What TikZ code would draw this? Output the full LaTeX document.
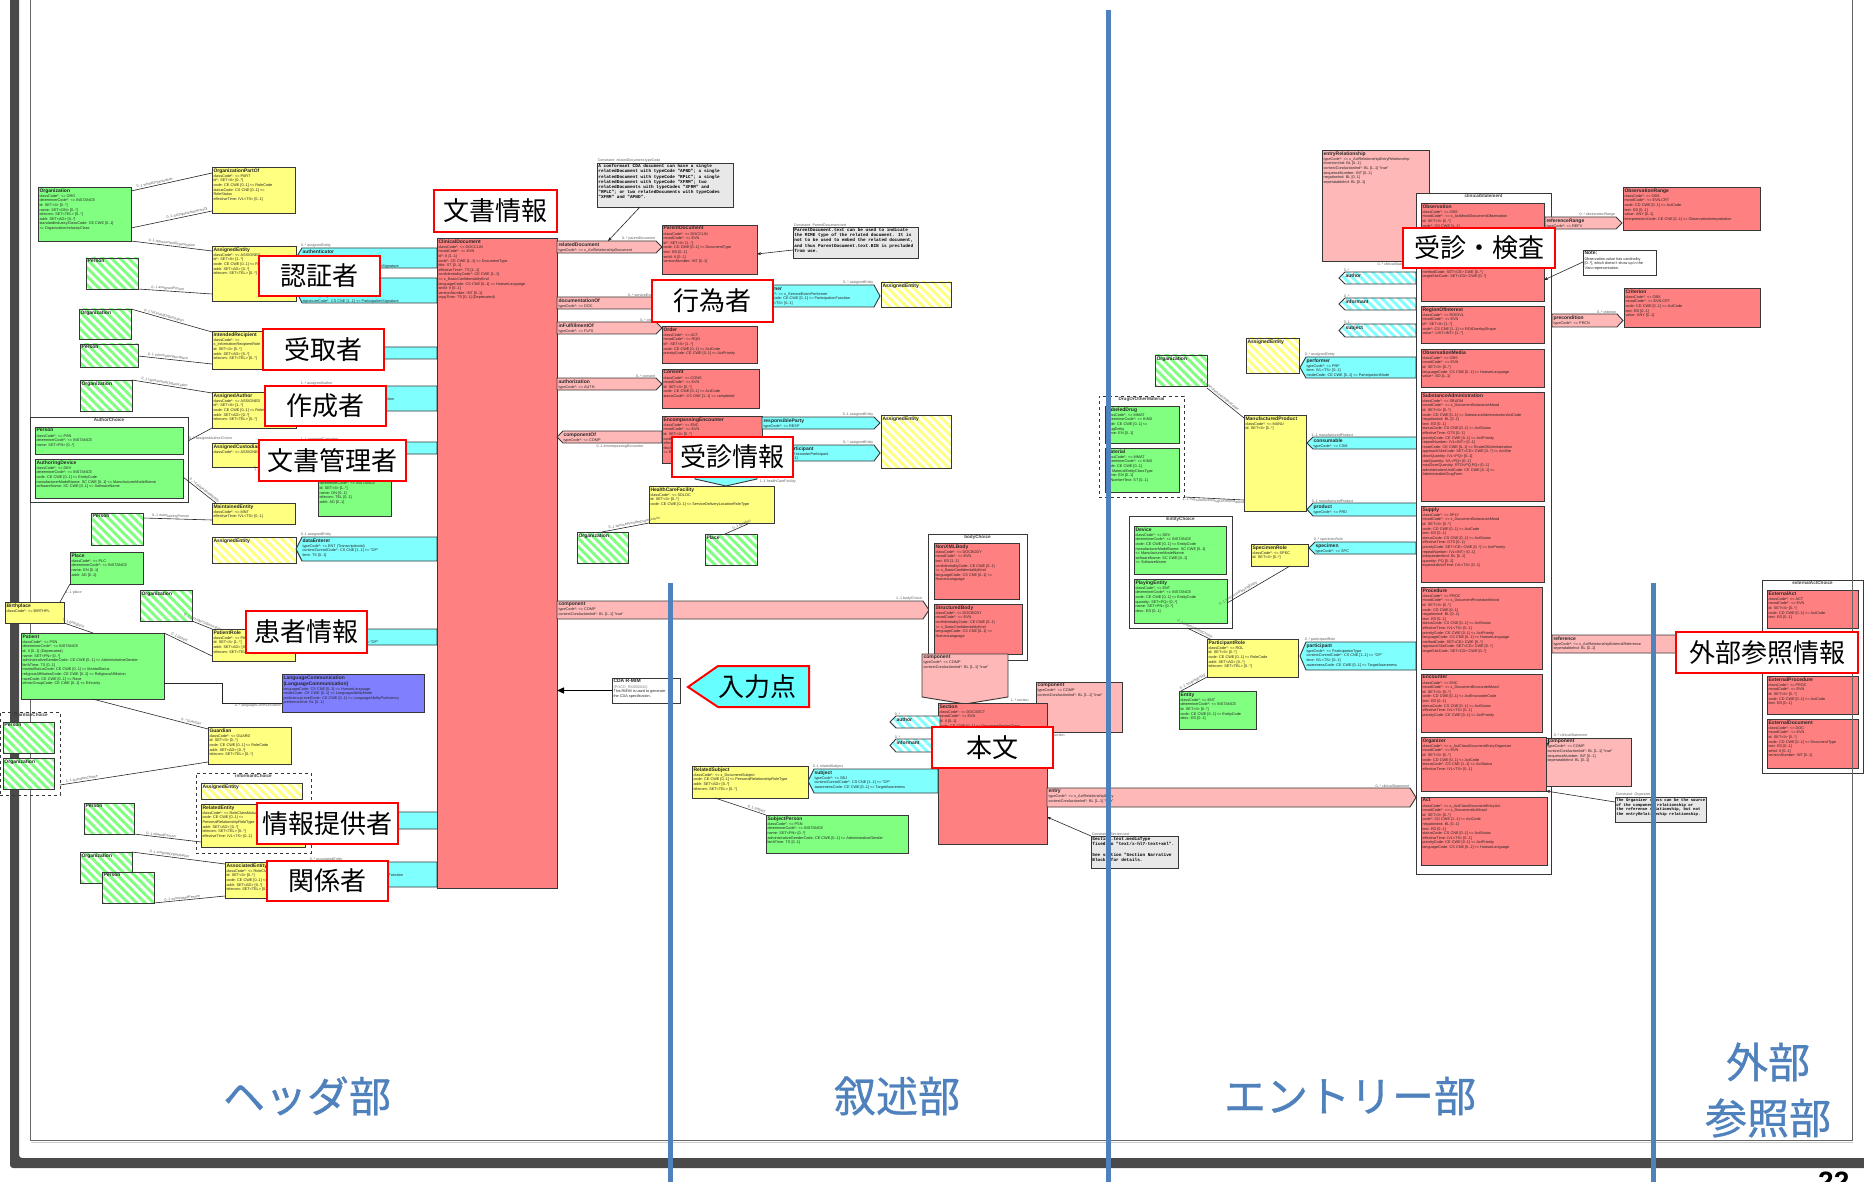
\documentclass[tikz,border=0pt]{standalone}
\usepackage{fontspec}
\setmainfont{Liberation Sans}
\newfontfamily\jpf{Noto Sans CJK JP}
\newfontfamily\jpfs[FakeBold=0.8]{Noto Sans CJK JP}
\newfontfamily\monof{Liberation Mono}
\usetikzlibrary{patterns.meta,arrows.meta,calc}
\definecolor{cAct}{RGB}{255,128,128}
\definecolor{cRel}{RGB}{255,184,184}
\definecolor{cPart}{RGB}{128,255,255}
\definecolor{cRole}{RGB}{255,255,128}
\definecolor{cEnt}{RGB}{128,255,128}
\definecolor{cLang}{RGB}{128,128,255}
\definecolor{cNote}{RGB}{232,232,232}
\definecolor{cBord}{RGB}{55,55,55}
\definecolor{cBlue}{RGB}{79,129,189}
\definecolor{cFrame}{RGB}{74,74,74}
\definecolor{cLbl}{RGB}{95,95,95}
\definecolor{cIn}{RGB}{102,255,255}
\tikzset{
 box/.style={draw=cBord,line width=0.9pt,inner sep=0pt,outer sep=0pt},
 shp/.style={draw=cBord,line width=0.9pt},
 kAct/.style={fill=cAct}, kRel/.style={fill=cRel}, kPart/.style={fill=cPart},
 kRole/.style={fill=cRole}, kEnt/.style={fill=cEnt}, kLang/.style={fill=cLang},
 kNote/.style={fill=cNote}, kWhite/.style={fill=white}, kDash/.style={dashed,line width=1pt},
 hEnt/.style={preaction={fill=white},pattern={Lines[angle=-45,distance=6pt,line width=3pt]},pattern color=cEnt},
 hRole/.style={preaction={fill=white},pattern={Lines[angle=-45,distance=6pt,line width=3pt]},pattern color=cRole},
 hPart/.style={preaction={fill=white},pattern={Lines[angle=-45,distance=6pt,line width=3pt]},pattern color=cPart},
 txt/.style={inner sep=1.3pt,align=left,font=\fontsize{3.8}{4.6}\selectfont,text=black!85},
 lbl/.style={inner sep=0.6pt,font=\fontsize{3.6}{4}\selectfont,text=cLbl},
 chtitle/.style={inner sep=1.2pt,font=\fontsize{4.6}{5}\selectfont\bfseries,text=black!75},
 con/.style={draw=black!85,line width=0.6pt},
 nar/.style={con,-{Stealth[length=4pt,width=3pt]}},
 jpcall/.style={draw=red,line width=2pt,fill=white,inner sep=0pt,outer sep=0pt,font=\jpf\fontsize{26}{30}\selectfont},
 secl/.style={text=cBlue,inner sep=0pt,font=\jpfs\fontsize{42}{46}\selectfont},
 bline/.style={draw=cBlue,line width=5pt},
}
\newcommand\ttl[1]{{\fontsize{5}{6}\selectfont\bfseries #1}}
\newcommand\ub[8]{%
 \node[box,#6,minimum width={#4-#2},minimum height={#5-#3},anchor=north west] (#1) at (#2,#3) {};
 \node[txt,anchor=north west] (#1t) at (#2,#3) {\ttl{#7}\\[0.6pt]#8};}
\newcommand\hb[7]{%
 \node[box,#6,minimum width={#4-#2},minimum height={#5-#3},anchor=north west] (#1) at (#2,#3) {};
 \node[txt,anchor=north west] (#1t) at (#2,#3) {\ttl{#7}};}
\newcommand\chf[7]{%
 \node[box,#6,minimum width={#4-#2},minimum height={#5-#3},anchor=north west] (#1) at (#2,#3) {};
 \node[chtitle,anchor=north] (#1t) at (#1.north) {#7};}
\newcommand\partL[9]{%
 \path[shp,#6] (#2,{(#3+#5)/2}) -- ({#2+6},#3) -- (#4,#3) -- (#4,#5) -- ({#2+6},#5) -- cycle;
 \node[txt,anchor=north west] (#1) at ({#2+5},#3) {\ttl{#7}\\[0.6pt]#8};
 \node[lbl,anchor=south west] (#1l) at ({#2+4},#3) {#9};}
\newcommand\partR[9]{%
 \path[shp,#6] (#2,#3) -- ({#4-6},#3) -- (#4,{(#3+#5)/2}) -- ({#4-6},#5) -- (#2,#5) -- cycle;
 \node[txt,anchor=north west] (#1) at (#2,#3) {\ttl{#7}\\[0.6pt]#8};
 \node[lbl,anchor=south east] (#1l) at ({#4-6},#3) {#9};}
\newcommand\partD[9]{%
 \path[shp,#6] (#2,#3) -- (#4,#3) -- (#4,{#5-7}) -- ({(#2+#4)/2},#5) -- (#2,{#5-7}) -- cycle;
 \node[txt,anchor=north west] (#1) at (#2,#3) {\ttl{#7}\\[0.6pt]#8};
 \node[lbl,anchor=west] (#1l) at ({#4+2},{#5-4}) {#9};}
\newcommand\jcall[6]{\node[jpcall,minimum width={#4-#2},minimum height={#5-#3},anchor=north west] (#1) at (#2,#3) {#6};}
\newcommand\noteb[8]{%
 \node[box,kNote,minimum width={#4-#2},minimum height={#5-#3},anchor=north west] (#1) at (#2,#3) {};
 \node[lbl,anchor=south west] (#1c) at (#1.north west) {#6};
 \node[anchor=north west,inner sep=1.2pt,align=left,font=\monof\bfseries#7] (#1t) at (#1.north west) {#8};}
\begin{document}
\begin{tikzpicture}[x=1pt,y=-1pt]
\useasboundingbox (0,0) rectangle (1864,1182);
\fill[white] (0,0) rectangle (1864,1182);
% ---------- frame
\fill[cFrame,rounded corners=3pt] (10,-5) -- (10,1168) -- (1870,1168) -- (1870,1158) -- (19,1158) -- (19,-5) -- cycle;
\draw[black!60,line width=0.8pt] (30,0) -- (30,1140) -- (1852,1140) -- (1852,0);
\draw[black!20,line width=0.8pt] (31,1142) -- (1853,1142);

% ---------- header part
\ub{orgL}{38}{187}{131}{241}{kEnt}{Organization}{classCode*: <= ORG\\determinerCode*: <= INSTANCE\\id: SET<II> [0..*]\\name: SET<ON> [0..*]\\telecom: SET<TEL> [0..*]\\addr: SET<AD> [0..*]\\standardIndustryClassCode: CE CWE [0..1]\\ <= OrganizationIndustryClass}
\ub{orgPart}{212}{167}{295}{213}{kRole}{OrganizationPartOf}{classCode*: <= PART\\id*: SET<II> [0..*]\\code: CE CWE [0..1] <= RoleCode\\statusCode: CS CNE [0..1] <=\\RoleStatus\\effectiveTime: IVL<TS> [0..1]}
\ub{aeAuth}{212}{246}{296}{301}{kRole}{AssignedEntity}{classCode*: <= ASSIGNED\\id*: SET<II> [1..*]\\code: CE CWE [0..1] <= RoleCode\\addr: SET<AD> [0..*]\\telecom: SET<TEL> [0..*]}
\hb{perA}{86}{258}{138}{289}{hEnt}{Person}
\partL{authn}{296}{248}{437}{268}{kPart}{authenticator}{typeCode*: <= AUTHEN\\time*: TS [1..1]\\signatureCode*: CS CNE [1..1] <= ParticipationSignature}{0..* assignedEntity}
\partL{legAuth}{296}{278}{437}{303}{kPart}{legalAuthenticator}{typeCode*: <= LA\\contextControlCode*: CS CNE [1..1] <= "OP"\\time*: TS [1..1]\\signatureCode*: CS CNE [1..1] <= ParticipationSignature}{0..1 assignedEntity}
\hb{orgR}{79}{309}{131}{339}{hEnt}{Organization}
\hb{perR}{80}{344}{138}{367}{hEnt}{Person}
\ub{intRec}{212}{331}{296}{369}{kRole}{IntendedRecipient}{classCode*: <=\\x\_InformationRecipientRole\\id: SET<II> [0..*]\\addr: SET<AD> [0..*]\\telecom: SET<TEL> [0..*]}
\partL{infRec}{296}{347}{437}{359}{kPart}{informationRecipient}{typeCode*: <= x\_InformationRecipient}{0..* intendedRecipient}
\hb{orgAu}{80}{380}{132}{411}{hEnt}{Organization}
\ub{assAuthor}{212}{392}{296}{428}{kRole}{AssignedAuthor}{classCode*: <= ASSIGNED\\id*: SET<II> [1..*]\\code: CE CWE [0..1] <= RoleCode\\addr: SET<AD> [0..*]\\telecom: SET<TEL> [0..*]}
\partL{author}{296}{386}{437}{411}{kPart}{author}{typeCode*: <= AUT\\functionCode: CE CWE [0..1] <= ParticipationFunction\\contextControlCode*: CS CNE [1..1] <= "OP"\\time*: TS [1..1]}{1..* assignedAuthor}
\chf{acf}{30}{417}{188}{502}{kWhite}{AuthorChoice}
\ub{perAC}{35}{427}{183}{454}{kEnt}{Person}{classCode*: <= PSN\\determinerCode*: <= INSTANCE\\name: SET<PN> [0..*]}
\ub{authDev}{35}{459}{183}{498}{kEnt}{AuthoringDevice}{classCode*: <= DEV\\determinerCode*: <= INSTANCE\\code: CE CWE [0..1] <= EntityCode\\manufacturerModelName: SC CWE [0..1] <= ManufacturerModelName\\softwareName: SC CWE [0..1] <= SoftwareName}
\ub{assCust}{212}{443}{296}{467}{kRole}{AssignedCustodian}{classCode*: <= ASSIGNED}
\partL{cust}{296}{442}{437}{454}{kPart}{custodian}{typeCode*: <= CST}{1..1 assignedCustodian}
\ub{orgCust}{318}{470}{391}{516}{kEnt}{CustodianOrganization}{classCode*: <= ORG\\determinerCode*: <= INSTANCE\\id: SET<II> [1..*]\\name: ON [0..1]\\telecom: TEL [0..1]\\addr: AD [0..1]}
\ub{maintEnt}{212}{503}{295}{524}{kRole}{MaintainedEntity}{classCode*: <= MNT\\effectiveTime: IVL<TS> [0..1]}
\hb{perM}{91}{513}{143}{545}{hEnt}{Person}
\hb{aeDE}{212}{537}{296}{563}{hRole}{AssignedEntity}
\partL{dataEnt}{296}{537}{437}{561}{kPart}{dataEnterer}{typeCode*: <= ENT (Transcriptionist)\\contextControlCode*: CS CNE [1..1] <= "OP"\\time: TS [0..1]}{0..1 assignedEntity}
\ub{place}{70}{552}{143}{584}{kEnt}{Place}{classCode*: <= PLC\\determinerCode*: <= INSTANCE\\name: EN [0..1]\\addr: AD [0..1]}
\ub{birth}{5}{602}{64}{623}{kRole}{Birthplace}{classCode*: <= BIRTHPL}
\hb{orgP}{140}{590}{192}{621}{hEnt}{Organization}
\ub{patRole}{212}{629}{295}{661}{kRole}{PatientRole}{classCode*: <= PAT\\id: SET<II> [1..*]\\addr: SET<AD> [0..*]\\telecom: SET<TEL> [0..*]}
\partL{recTarget}{296}{629}{437}{645}{kPart}{recordTarget}{typeCode*: <= RCT\\contextControlCode*: CS CNE [1..1] <= "OP"}{1..* patientRole}
\ub{patient}{21}{633}{164}{699}{kEnt}{Patient}{classCode*: <= PSN\\determinerCode*: <= INSTANCE\\id: II [0..1] (Deprecated)\\name: SET<PN> [0..*]\\administrativeGenderCode: CE CWE [0..1] <= AdministrativeGender\\birthTime: TS [0..1]\\maritalStatusCode: CE CWE [0..1] <= MaritalStatus\\religiousAffiliationCode: CE CWE [0..1] <= ReligiousAffiliation\\raceCode: CE CWE [0..1] <= Race\\ethnicGroupCode: CE CWE [0..1] <= Ethnicity}
\ub{langComm}{282}{674}{424}{712}{kLang}{LanguageCommunication}{\ttl{(LanguageCommunication)}\\languageCode: CS CNE [0..1] <= HumanLanguage\\modeCode: CE CWE [0..1] <= LanguageAbilityMode\\proficiencyLevelCode: CE CWE [0..1] <= LanguageAbilityProficiency\\preferenceInd: BL [0..1]}
\chf{gch}{0}{712}{60}{795}{kDash}{GuardianChoice}
\hb{persG}{3}{722}{54}{753}{hEnt}{Person}
\hb{orgG}{3}{758}{54}{789}{hEnt}{Organization}
\ub{guardian}{208}{727}{291}{764}{kRole}{Guardian}{classCode*: <= GUARD\\id: SET<II> [0..*]\\code: CE CWE [0..1] <= RoleCode\\addr: SET<AD> [0..*]\\telecom: SET<TEL> [0..*]}
\chf{ich}{196}{773}{311}{853}{kDash}{informantChoice}
\hb{aeInf}{201}{783}{302}{799}{hRole}{AssignedEntity}
\ub{relEnt}{201}{804}{305}{847}{kRole}{RelatedEntity}{classCode*: <= RoleClassMutualRelationship\\code: CE CWE [0..1] <=\\PersonalRelationshipRoleType\\addr: SET<AD> [0..*]\\telecom: SET<TEL> [0..*]\\effectiveTime: IVL<TS> [0..1]}
\partL{inform}{311}{812}{438}{829}{kPart}{informant}{typeCode*: <= INF\\contextControlCode*: CS CNE [1..1] <= "OP"}{1..1 informantChoice}
\hb{perI}{84}{803}{134}{834}{hEnt}{Person}
\hb{orgS}{80}{852}{132}{883}{hEnt}{Organization}
\hb{perS}{102}{872}{154}{903}{hEnt}{Person}
\ub{assocEnt}{225}{862}{305}{898}{kRole}{AssociatedEntity}{classCode*: <= RoleClassAssociative\\id: SET<II> [0..*]\\code: CE CWE [0..1] <= RoleCode\\addr: SET<AD> [0..*]\\telecom: SET<TEL> [0..*]}
\partL{partic}{305}{862}{437}{887}{kPart}{participant}{typeCode*: <= ParticipationType\\functionCode: CE CWE [0..1] <= ParticipationFunction\\contextControlCode*: CS CNE [1..1] <= "OP"\\time: IVL<TS> [0..1]}{0..* associatedEntity}
\ub{cdoc}{437}{238}{557}{888}{kAct}{ClinicalDocument}{classCode*: <= DOCCLIN\\moodCode*: <= EVN\\id*: II [1..1]\\code*: CE CWE [1..1] <= DocumentType\\title: ST [0..1]\\effectiveTime*: TS [1..1]\\confidentialityCode*: CE CWE [1..1]\\ <= x\_BasicConfidentialityKind\\languageCode: CS CNE [0..1] <= HumanLanguage\\setId: II [0..1]\\versionNumber: INT [0..1]\\copyTime: TS [0..1] (Deprecated)}

% ---------- header connectors
\draw[con] ([yshift=-4pt]orgL.north east) -- ([yshift=-6pt]orgPart.north west) node[lbl,pos=0.3,above,sloped]{0..1 wholeOrganization};
\draw[con] ([yshift=-41pt]orgL.north east) -- ([yshift=-44pt]orgPart.north west) node[lbl,pos=0.7,above,sloped]{0..1 asOrganizationPartOf};
\draw[con] (orgL.south east) -- ([yshift=-5pt]aeAuth.north west) node[lbl,pos=0.5,above,sloped]{0..1 representedOrganization};
\draw[con] (perA.south east) -- ([yshift=7pt]aeAuth.south west) node[lbl,pos=0.4,above,sloped]{0..1 assignedPerson};
\draw[con] (orgR.north east) -- ([yshift=-1pt]intRec.north west) node[lbl,pos=0.4,above,sloped]{0..1 receivedOrganization};
\draw[con] ([yshift=-12pt]perR.north east) -- ([yshift=5pt]intRec.south west) node[lbl,pos=0.4,above,sloped]{0..1 informationRecipient};
\draw[con] (orgAu.north east) -- ([yshift=-1pt]assAuthor.north west) node[lbl,pos=0.4,above,sloped]{0..1 representedOrganization};
\draw[con] ([yshift=-24pt]acf.north east) -- (assAuthor.south west) node[lbl,pos=0,anchor=south west]{0..1 assignedAuthorChoice};
\draw[con] ([yshift=-18pt]authDev.north east) -- ([xshift=4pt]maintEnt.north west) node[lbl,pos=0.6,above,sloped]{0..* asMaintainedEntity};
\draw[con] ([yshift=-5pt]perM.north east) -- ([yshift=4pt]maintEnt.south west) node[lbl,pos=0.4,above,sloped]{0..1 maintainingPerson};
\draw[con] (assCust.south) -- ([yshift=-8pt]orgCust.north west) node[lbl,pos=0.5,below,sloped]{1..1 representedCustodianOrganization};
\draw[con] (place.south west) -- ([xshift=-4pt]birth.north east) node[lbl,pos=0.5,right]{1..1 place};
\draw[con] (birth.south east) -- ([xshift=72pt]patient.north west) node[lbl,pos=0.3,above,sloped]{0..1 birthplace};
\draw[con] (orgP.south east) -- (patRole.north west) node[lbl,pos=0.5,above,sloped]{0..1 providerOrganization};
\draw[con] (patient.north east) -- ([yshift=5pt]patRole.south west) node[lbl,pos=0.3,above,sloped]{0..1 patient};
\draw[con] ([yshift=16pt]patient.south east) -- ++(58,0) |- ([yshift=9pt]langComm.south west) node[lbl,pos=0.8,below]{0..* languageCommunication};
\draw[con] (patient.south) -- ([yshift=-2pt]guardian.north west) node[lbl,pos=0.85,above,sloped]{0..* guardian};
\draw[con] ([yshift=10pt]gch.south east) -- ([yshift=2pt]guardian.south west) node[lbl,pos=0.15,above,sloped]{1..1 guardianChoice};
\draw[con] (perI.south east) -- ([yshift=5pt]relEnt.south west) node[lbl,pos=0.4,above,sloped]{0..1 relatedPerson};
\draw[con] (orgS.north east) -- ([yshift=-2pt]assocEnt.north west) node[lbl,pos=0.4,above,sloped]{0..1 scopingOrganization};
\draw[con] (perS.south east) -- ([yshift=2pt]assocEnt.south west) node[lbl,pos=0.4,above,sloped]{0..1 associatedPerson};

% ---------- middle (document context + narrative)
\noteb{noteRD}{597}{163}{733}{207}{Constraint: relatedDocument.typeCode}{\fontsize{4.4}{5.2}\selectfont}{A conformant CDA document can have a single\\relatedDocument with typeCode "APND"; a single\\relatedDocument with typeCode "RPLC"; a single\\relatedDocument with typeCode "XFRM";  two\\relatedDocuments with typeCodes "XFRM" and\\"RPLC"; or two relatedDocuments with typeCodes\\"XFRM" and "APND".}
\partR{relDoc}{557}{241}{662}{253}{kRel}{relatedDocument}{typeCode*: <= x\_ActRelationshipDocument}{0..* parentDocument}
\ub{parentDoc}{662}{225}{757}{274}{kAct}{ParentDocument}{classCode*: <= DOCCLIN\\moodCode*: <= EVN\\id*: SET<II> [1..*]\\code: CD CWE [0..1] <= DocumentType\\text: ED [0..1]\\setId: II [0..1]\\versionNumber: INT [0..1]}
\noteb{notePD}{793}{227}{918}{258}{Constraint: ParentDocument.text}{\fontsize{4.4}{5.2}\selectfont}{ParentDocument.text can be used to indicate\\the MIME type of the related document. It is\\not to be used to embed the related document,\\and thus ParentDocument.text.BIN is precluded\\from use.}
\partR{docOf}{557}{297}{662}{309}{kRel}{documentationOf}{typeCode*: <= DOC}{0..* serviceEvent}
\ub{servEv}{662}{283}{757}{322}{kAct}{ServiceEvent}{classCode*: <= ACT\\moodCode*: <= EVN\\id: SET<II> [0..*]\\code: CE CWE [0..1]\\effectiveTime: IVL<TS> [0..1]}
\partR{perfSE}{757}{285}{880}{307}{kPart}{performer}{typeCode*: <= x\_ServiceEventPerformer\\functionCode: CE CWE [0..1] <= ParticipationFunction\\time: IVL<TS> [0..1]}{0..* assignedEntity}
\hb{aeSE}{881}{282}{951}{307}{hRole}{AssignedEntity}
\partR{inFul}{557}{322}{662}{334}{kRel}{inFulfillmentOf}{typeCode*: <= FLFS}{0..* order}
\ub{order}{662}{326}{757}{363}{kAct}{Order}{classCode*: <= ACT\\moodCode*: <= RQO\\id*: SET<II> [1..*]\\code: CE CWE [0..1] <= ActCode\\priorityCode: CE CWE [0..1] <= ActPriority}
\partR{authz}{557}{378}{662}{390}{kRel}{authorization}{typeCode*: <= AUTH}{0..* consent}
\ub{consent}{662}{369}{759}{408}{kAct}{Consent}{classCode*: <= CONS\\moodCode*: <= EVN\\id: SET<II> [0..*]\\code: CE CWE [0..1] <= ActCode\\statusCode*: CS CNE [1..1] <= completed}
\partL{compOf}{557}{431}{662}{443}{kRel}{componentOf}{typeCode*: <= COMP}{}
\node[lbl,anchor=north] (compOfl2) at (620,444) {0..1 encompassingEncounter};
\ub{encEnc}{662}{416}{762}{463}{kAct}{EncompassingEncounter}{classCode*: <= ENC\\moodCode*: <= EVN\\id: SET<II> [0..*]\\code: CE CWE [0..1] <= ActEncounterCode\\effectiveTime*: IVL<TS> [1..1]\\dischargeDispositionCode: CE CWE [0..1]\\ <= EncounterDischargeDisposition}
\partR{respP}{762}{417}{880}{429}{kPart}{responsibleParty}{typeCode*: <= RESP}{0..1 assignedEntity}
\partR{encPart}{762}{445}{880}{461}{kPart}{encounterParticipant}{typeCode*: <= x\_EncounterParticipant\\time: IVL<TS> [0..1]}{0..* assignedEntity}
\hb{aeEE}{881}{415}{951}{468}{hRole}{AssignedEntity}
\partD{loc}{695}{463}{757}{486}{kPart}{location}{typeCode*: <= LOC}{1..1 healthCareFacility}
\ub{hcf}{649}{486}{774}{523}{kRole}{HealthCareFacility}{classCode*: <= SDLOC\\id: SET<II> [0..*]\\code: CE CWE [0..1] <= ServiceDeliveryLocationRoleType}
\hb{orgH}{577}{532}{628}{563}{hEnt}{Organization}
\hb{placeH}{705}{534}{757}{565}{hEnt}{Place}
\draw[con] (hcf.south west) -- ([xshift=25pt]orgH.north west) node[lbl,pos=0.3,above,sloped]{0..1 serviceProviderOrganization};
\draw[con] ([xshift=-24pt]hcf.south east) -- ([xshift=20pt]placeH.north west) node[lbl,pos=0.3,above,sloped]{0..1 location};
\partR{compB}{557}{601}{929}{619}{kRel}{component}{typeCode*: <= COMP\\contextConductionInd*: BL [1..1] "true"}{1..1 bodyChoice}
\chf{bch}{928}{534}{1027}{660}{kWhite}{bodyChoice}
\ub{nonXML}{934}{543}{1019}{599}{kAct}{NonXMLBody}{classCode*: <= DOCBODY\\moodCode*: <= EVN\\text: ED [1..1]\\confidentialityCode: CE CWE [0..1]\\ <= x\_BasicConfidentialityKind\\languageCode: CS CNE [0..1] <=\\HumanLanguage}
\ub{structB}{934}{604}{1022}{654}{kAct}{StructuredBody}{classCode*: <= DOCBODY\\moodCode*: <= EVN\\confidentialityCode: CE CWE [0..1]\\ <= x\_BasicConfidentialityKind\\languageCode: CS CNE [0..1] <=\\HumanLanguage}
\partD{compBS}{922}{654}{1008}{704}{kRel}{component}{typeCode*: <= COMP\\contextConductionInd*: BL [1..1] "true"}{1..* section}
\ub{compSS}{1036}{682}{1122}{732}{kRel}{component}{typeCode*: <= COMP\\contextConductionInd*: BL [1..1] "true"}
\node[lbl,anchor=north west] (compSSl) at (1046,733) {0..* section};
\ub{section}{938}{703}{1047}{844}{kAct}{Section}{classCode*: <= DOCSECT\\moodCode*: <= EVN\\id: II [0..1]\\code: CE CWE [0..1] <= DocumentSectionType\\title: ST [0..1]\\text: ED [0..1]\\confidentialityCode: CE CWE [0..1]\\ <= x\_BasicConfidentialityKind\\languageCode: CS CNE [0..1] <= HumanLanguage}
\partL{authS}{890}{716}{940}{728}{hPart}{author}{}{0..*}
\partL{infS}{890}{739}{932}{752}{hPart}{informant}{}{0..*}
\partL{subjS}{808}{769}{938}{793}{kPart}{subject}{typeCode*: <= SBJ\\contextControlCode*: CS CNE [1..1] <= "OP"\\awarenessCode: CE CWE [0..1] <= TargetAwareness}{0..1 relatedSubject}
\ub{relSubj}{692}{766}{808}{798}{kRole}{RelatedSubject}{classCode*: <= x\_DocumentSubject\\code: CE CWE [0..1] <= PersonalRelationshipRoleType\\addr: SET<AD> [0..*]\\telecom: SET<TEL> [0..*]}
\ub{subjPers}{766}{815}{908}{853}{kEnt}{SubjectPerson}{classCode*: <= PSN\\determinerCode*: <= INSTANCE\\name: SET<PN> [0..*]\\administrativeGenderCode: CE CWE [0..1] <= AdministrativeGender\\birthTime: TS [0..1]}
\draw[con] ([xshift=23pt]relSubj.south west) -- (subjPers.north west) node[lbl,pos=0.8,above,sloped]{0..1 subject};
\partR{entry}{1047}{788}{1416}{807}{kRel}{entry}{typeCode*: <= x\_ActRelationshipEntry\\contextConductionInd*: BL [1..1] "true"}{0..* clinicalStatement}
\noteb{noteSec}{1091}{836}{1178}{868}{Constraint: Section.text}{\fontsize{4.4}{5.2}\selectfont}{Section.text.mediaType\\fixed to "text/x-hl7-text+xml".\\\mbox{}\\See section "Section Narrative\\Block" for details.}
\ub{cdarmim}{612}{678}{680}{703}{kWhite}{CDA R-MIM}{{\color{gray}(POCD\_RM000040)}\\This RMIM is used to generate\\the CDA specification.}
\draw[black,line width=1.4pt,-{Triangle[length=7pt,width=6pt]}] (cdarmim.west) -- (cdarmim.west -| cdoc.east);
\draw[nar] ([xshift=43pt]noteRD.south west) -- ([xshift=51pt]relDoc.north west);
\draw[nar] ([yshift=-23pt]notePD.north west) -- ([yshift=-29pt]parentDoc.north east);
\draw[nar] (noteSec.north west) -- ([yshift=-114pt]section.north east);

% ---------- entry part
\ub{entryRel}{1322}{150}{1429}{261}{kRel}{entryRelationship}{typeCode*: <= x\_ActRelationshipEntryRelationship\\inversionInd: BL [0..1]\\contextConductionInd*: BL [1..1] "true"\\sequenceNumber: INT [0..1]\\negationInd: BL [0..1]\\seperatableInd: BL [0..1]}
\node[lbl,anchor=north east] (entryRell) at (1412,262) {0..* clinicalStatement};
\partL{authE}{1339}{272}{1416}{284}{hPart}{author}{}{0..*}
\partL{infE}{1339}{298}{1416}{310}{hPart}{informant}{}{0..*}
\partL{subjE}{1339}{324}{1416}{337}{hPart}{subject}{}{0..1}
\hb{aeE}{1246}{338}{1299}{373}{hRole}{AssignedEntity}
\partL{perfE}{1300}{357}{1416}{378}{kPart}{performer}{typeCode*: <= PRF\\time: IVL<TS> [0..1]\\modeCode: CE CWE [0..1] <= ParticipationMode}{0..* assignedEntity}
\hb{orgE}{1155}{355}{1207}{386}{hEnt}{Organization}
\chf{domf}{1099}{396}{1184}{497}{kDash}{DrugOrOtherMaterial}
\ub{labDrug}{1105}{406}{1179}{443}{kEnt}{LabeledDrug}{classCode*: <= MMAT\\determinerCode*: <= KIND\\code: CE CWE [0..1] <=\\DrugEntity\\name: EN [0..1]}
\ub{material}{1105}{448}{1179}{492}{kEnt}{Material}{classCode*: <= MMAT\\determinerCode*: <= KIND\\code: CE CWE [0..1]\\ <= MaterialEntityClassType\\name: EN [0..1]\\lotNumberText: ST [0..1]}
\ub{manProd}{1244}{415}{1306}{511}{kRole}{ManufacturedProduct}{classCode*: <= MANU\\id: SET<II> [0..*]}
\partL{consum}{1307}{437}{1421}{449}{kPart}{consumable}{typeCode*: <= CSM}{1..1 manufacturedProduct}
\partL{prod}{1307}{503}{1421}{516}{kPart}{product}{typeCode*: <= PRD}{0..1 manufacturedProduct}
\chf{ech}{1129}{516}{1232}{628}{kWhite}{EntityChoice}
\ub{device}{1134}{526}{1226}{574}{kEnt}{Device}{classCode*: <= DEV\\determinerCode*: <= INSTANCE\\code: CE CWE [0..1] <= EntityCode\\manufacturerModelName: SC CWE [0..1]\\ <= ManufacturerModelName\\softwareName: SC CWE [0..1]\\ <= SoftwareName}
\ub{playEnt}{1134}{579}{1227}{623}{kEnt}{PlayingEntity}{classCode*: <= ENT\\determinerCode*: <= INSTANCE\\code: CE CWE [0..1] <= EntityCode\\quantity: SET<PQ> [0..*]\\name: SET<PN> [0..*]\\desc: ED [0..1]}
\ub{specRole}{1251}{544}{1308}{566}{kRole}{SpecimenRole}{classCode*: <= SPEC\\id: SET<II> [0..*]}
\partL{specim}{1309}{542}{1416}{554}{kPart}{specimen}{typeCode*: <= SPC}{0..* specimenRole}
\ub{partRole}{1207}{639}{1298}{677}{kRole}{ParticipantRole}{classCode*: <= ROL\\id: SET<II> [0..*]\\code: CE CWE [0..1] <= RoleCode\\addr: SET<AD> [0..*]\\telecom: SET<TEL> [0..*]}
\partL{particE}{1300}{642}{1416}{670}{kPart}{participant}{typeCode*: <= ParticipationType\\contextControlCode*: CS CNE [1..1] <= "OP"\\time: IVL<TS> [0..1]\\awarenessCode: CE CWE [0..1] <= TargetAwareness}{0..* participantRole}
\ub{entity}{1179}{691}{1256}{729}{kEnt}{Entity}{classCode*: <= ENT\\determinerCode*: <= INSTANCE\\id: SET<II> [0..*]\\code: CE CWE [0..1] <= EntityCode\\desc: ED [0..1]}
\draw[con] ([yshift=-2pt]orgE.south east) -- ([yshift=-3pt]manProd.north west) node[lbl,pos=0.3,above,sloped]{0..1 manufacturerOrganization};
\draw[con] (domf.south east) -- ([yshift=11pt]manProd.south west) node[lbl,pos=0.5,below,sloped]{1..1 manufacturedDrugOrOtherMaterial};
\draw[con] ([xshift=-18pt]specRole.south east) -- ([yshift=-24pt]playEnt.north east) node[lbl,pos=0.8,above,sloped]{0..1 specimenPlayingEntity};
\draw[con] ([xshift=58pt]ech.south west) -- ([xshift=3pt]partRole.north west) node[lbl,pos=0.3,above,sloped]{0..1 playingEntityChoice};
\draw[con] (partRole.south west) -- ([xshift=2pt]entity.north west) node[lbl,pos=0.5,above,sloped]{0..1 scopingEntity};

\chf{csf}{1416}{193}{1551}{874}{kWhite}{clinicalStatement}
\ub{obs}{1421}{203}{1544}{301}{kAct}{Observation}{classCode*: <= OBS\\moodCode*: <= x\_ActMoodDocumentObservation\\id: SET<II> [0..*]\\code*: CD CWE [1..1]\\derivationExpr: ST [0..1]\\text: ED [0..1]\\statusCode: CS CNE [0..1] <= ActStatus\\effectiveTime: IVL<TS> [0..1]\\priorityCode: CE CWE [0..1] <= ActPriority\\repeatNumber: IVL<INT> [0..1]\\languageCode: CS CNE [0..1] <= HumanLanguage\\value: ANY [0..1]\\interpretationCode: SET<CE> CNE [0..*]\\methodCode: SET<CE> CWE [0..*]\\targetSiteCode: SET<CD> CWE [0..*]}
\ub{roi}{1421}{306}{1544}{343}{kAct}{RegionOfInterest}{classCode*: <= ROIOVL\\moodCode*: <= EVN\\id*: SET<II> [1..*]\\code*: CS CNE [1..1] <= ROIOverlayShape\\value*: LIST<INT> [1..*]}
\ub{obsMedia}{1421}{349}{1544}{387}{kAct}{ObservationMedia}{classCode*: <= OBS\\moodCode*: <= EVN\\id: SET<II> [0..*]\\languageCode: CS CNE [0..1] <= HumanLanguage\\value*: ED [1..1]}
\ub{subAdm}{1421}{392}{1544}{501}{kAct}{SubstanceAdministration}{classCode*: <= SBADM\\moodCode*: <= x\_DocumentSubstanceMood\\id: SET<II> [0..*]\\code: CD CWE [0..1] <= SubstanceAdministrationActCode\\negationInd: BL [0..1]\\text: ED [0..1]\\statusCode: CS CNE [0..1] <= ActStatus\\effectiveTime: GTS [0..1]\\priorityCode: CE CWE [0..1] <= ActPriority\\repeatNumber: IVL<INT> [0..1]\\routeCode: CE CWE [0..1] <= RouteOfAdministration\\approachSiteCode: SET<CD> CWE [0..*] <= ActSite\\doseQuantity: IVL<PQ> [0..1]\\rateQuantity: IVL<PQ> [0..1]\\maxDoseQuantity: RTO<PQ,PQ> [0..1]\\administrationUnitCode: CE CWE [0..1] <=\\AdministrableDrugForm}
\ub{supply}{1421}{506}{1544}{582}{kAct}{Supply}{classCode*: <= SPLY\\moodCode*: <= x\_DocumentSubstanceMood\\id: SET<II> [0..*]\\code: CD CWE [0..1] <= ActCode\\text: ED [0..1]\\statusCode: CS CNE [0..1] <= ActStatus\\effectiveTime: GTS [0..1]\\priorityCode: SET<CE> CWE [0..*] <= ActPriority\\repeatNumber: IVL<INT> [0..1]\\independentInd: BL [0..1]\\quantity: PQ [0..1]\\expectedUseTime: IVL<TS> [0..1]}
\ub{proc}{1421}{587}{1542}{669}{kAct}{Procedure}{classCode*: <= PROC\\moodCode*: <= x\_DocumentProcedureMood\\id: SET<II> [0..*]\\code: CD CWE [0..1]\\negationInd: BL [0..1]\\text: ED [0..1]\\statusCode: CS CNE [0..1] <= ActStatus\\effectiveTime: IVL<TS> [0..1]\\priorityCode: CE CWE [0..1] <= ActPriority\\languageCode: CS CNE [0..1] <= HumanLanguage\\methodCode: SET<CE> CWE [0..*]\\approachSiteCode: SET<CD> CWE [0..*]\\targetSiteCode: SET<CD> CWE [0..*]}
\ub{encounter}{1421}{674}{1542}{732}{kAct}{Encounter}{classCode*: <= ENC\\moodCode*: <= x\_DocumentEncounterMood\\id: SET<II> [0..*]\\code: CD CWE [0..1] <= ActEncounterCode\\text: ED [0..1]\\statusCode: CS CNE [0..1] <= ActStatus\\effectiveTime: IVL<TS> [0..1]\\priorityCode: CE CWE [0..1] <= ActPriority}
\ub{compOrg}{1546}{738}{1631}{786}{kRel}{component}{typeCode*: <= COMP\\contextConductionInd*: BL [1..1] "true"\\sequenceNumber: INT [0..1]\\seperatableInd: BL [0..1]}
\node[lbl,anchor=south west] (compOrgl) at (1553,737) {0..* clinicalStatement};
\ub{organizer}{1421}{737}{1546}{791}{kAct}{Organizer}{classCode*: <= x\_ActClassDocumentEntryOrganizer\\moodCode*: <= EVN\\id: SET<II> [0..*]\\code: CD CWE [0..1] <= ActCode\\statusCode*: CS CNE [1..1] <= ActStatus\\effectiveTime: IVL<TS> [0..1]}
\ub{act}{1421}{797}{1547}{865}{kAct}{Act}{classCode*: <= x\_ActClassDocumentEntryAct\\moodCode*: <= x\_DocumentActMood\\id: SET<II> [0..*]\\code*: CD CWE [1..1] <= ActCode\\negationInd: BL [0..1]\\text: ED [0..1]\\statusCode: CS CNE [0..1] <= ActStatus\\effectiveTime: IVL<TS> [0..1]\\priorityCode: CE CWE [0..1] <= ActPriority\\languageCode: CS CNE [0..1] <= HumanLanguage}
\partR{refRange}{1545}{217}{1622}{229}{kRel}{referenceRange}{typeCode*: <= REFV}{0..* observationRange}
\ub{obsRange}{1623}{187}{1760}{230}{kAct}{ObservationRange}{classCode*: <= OBS\\moodCode*: <= EVN.CRT\\code: CD CWE [0..1] <= ActCode\\text: ED [0..1]\\value: ANY [0..1]\\interpretationCode: CE CNE [0..1] <= ObservationInterpretation}
\ub{noteObs}{1583}{250}{1656}{275}{kWhite}{Note:}{Observation.value has cardinality\\{[}0..*{]}, which doesn't show up in the\\Visio representation.}
\partR{precond}{1552}{314}{1623}{327}{kRel}{precondition}{typeCode*: <= PRCN}{0..* criterion}
\ub{criterion}{1624}{288}{1760}{327}{kAct}{Criterion}{classCode*: <= OBS\\moodCode*: <= EVN.CRT\\code: CD CWE [0..1] <= ActCode\\text: ED [0..1]\\value: ANY [0..1]}
\partR{refer}{1552}{635}{1762}{653}{kRel}{reference}{typeCode*: <= x\_ActRelationshipExternalReference\\seperatableInd: BL [0..1]}{0..* externalActChoice}
\chf{extch}{1762}{580}{1863}{773}{kWhite}{externalActChoice}
\ub{extAct}{1767}{590}{1858}{628}{kAct}{ExternalAct}{classCode*: <= ACT\\moodCode*: <= EVN\\id: SET<II> [0..*]\\code: CD CWE [0..1] <= ActCode\\text: ED [0..1]}
\ub{extObs}{1767}{632}{1858}{672}{kAct}{ExternalObservation}{classCode*: <= OBS\\moodCode*: <= EVN\\id: SET<II> [0..*]\\code: CD CWE [0..1] <= ActCode\\text: ED [0..1]}
\ub{extProc}{1767}{676}{1858}{714}{kAct}{ExternalProcedure}{classCode*: <= PROC\\moodCode*: <= EVN\\id: SET<II> [0..*]\\code: CD CWE [0..1] <= ActCode\\text: ED [0..1]}
\ub{extDoc}{1767}{719}{1858}{768}{kAct}{ExternalDocument}{classCode*: <= DOC\\moodCode*: <= EVN\\id: SET<II> [0..*]\\code: CD CWE [0..1] <= DocumentType\\text: ED [0..1]\\setId: II [0..1]\\versionNumber: INT [0..1]}
\noteb{noteOrg}{1615}{797}{1706}{822}{Constraint: Organizer}{\fontsize{4}{4.8}\selectfont}{The Organizer class can be the source\\of the component relationship or\\the reference relationship, but not\\the entryRelationship relationship.}
\draw[nar] ([yshift=-12pt]noteObs.north west) -- ([yshift=-77pt]obs.north east);
\draw[nar] ([yshift=-5pt]noteOrg.north west) -- (organizer.south east);
\draw[nar] ([xshift=2pt]compOrg.north west) -- ([xshift=2pt,yshift=-8pt]compOrg.north west);

% right frame line over external choice
\draw[black!60,line width=0.8pt] (1852,560) -- (1852,800);

% ---------- blue separators
\draw[bline] (670,583) -- (670,1182);
\draw[bline] (1108,10) -- (1108,1182);
\draw[bline] (1653,583) -- (1653,1182);

% ---------- callouts
\jcall{cBun}{434}{190}{557}{232}{文書情報}
\jcall{cNin}{259}{256}{380}{296}{認証者}
\jcall{cJyu}{263}{329}{384}{370}{受取者}
\jcall{cSak}{265}{386}{386}{426}{作成者}
\jcall{cKan}{259}{440}{406}{481}{文書管理者}
\jcall{cKan2}{246}{611}{367}{653}{患者情報}
\jcall{cJoh}{257}{803}{398}{844}{情報提供者}
\jcall{cKak}{267}{861}{388}{901}{関係者}
\jcall{cKoi}{652}{280}{773}{322}{行為者}
\jcall{cJus}{672}{437}{793}{477}{受診情報}
\jcall{cHon}{932}{727}{1053}{768}{本文}
\jcall{cKen}{1403}{228}{1555}{268}{受診・検査}
\jcall{cGai}{1676}{632}{1858}{673}{外部参照情報}
\path[draw=red,line width=2pt,fill=cIn] (688,687) -- (718,666) -- (809,666) -- (809,707) -- (718,707) -- cycle;
\node[font=\jpf\fontsize{26}{30}\selectfont,inner sep=0pt] (inPt) at (757,687) {入力点};

% ---------- section labels
\node[secl] (lHead) at (307,1096) {ヘッダ部};
\node[secl] (lNarr) at (897,1096) {叙述部};
\node[secl] (lEntr) at (1350,1096) {エントリー部};
\node[secl] (lExt1) at (1768,1062) {外部};
\node[secl] (lExt2) at (1768,1118) {参照部};
\node[anchor=north west,inner sep=0pt,font=\bfseries\fontsize{28}{28}\selectfont] (pgNo) at (1818,1172) {22};
\end{tikzpicture}
\end{document}
